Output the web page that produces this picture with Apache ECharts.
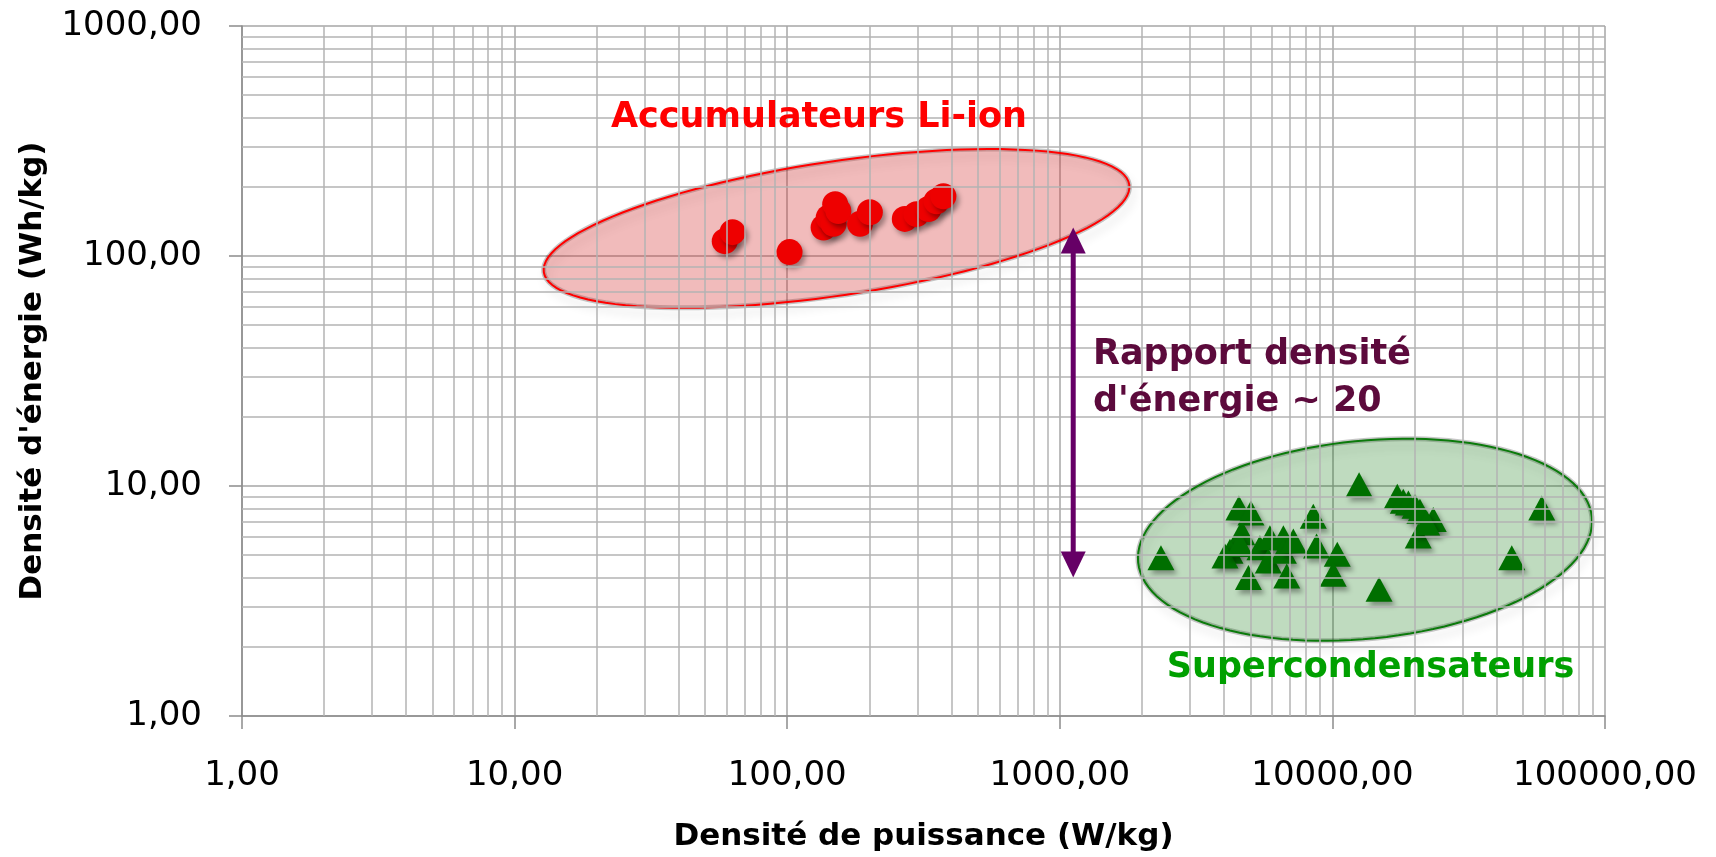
<!DOCTYPE html>
<html>
<head>
<meta charset="utf-8">
<script src="https://cdn.jsdelivr.net/npm/echarts@6/dist/echarts.min.js"></script>
<style>
  html, body { margin: 0; padding: 0; background: #ffffff; }
  #chart { width: 1716px; height: 857px; }
</style>
</head>
<body>
<div id="chart"></div>
<script>
// Li-ion cells: [power density W/kg, energy density Wh/kg]
const liIon = [
  [59, 116], [63, 127], [102, 104],
  [136, 133], [142, 147], [148, 138], [150, 168], [154, 157],
  [185, 138], [201, 155],
  [270, 145], [298, 152], [330, 160], [353, 173], [374, 182]
];

// Supercapacitors: [power density W/kg, energy density Wh/kg]
const superCaps = [
  [2350, 4.88], [4540, 8.03], [5025, 7.64], [4650, 6.26], [4210, 5.21],
  [4036, 4.96], [4580, 5.57], [4920, 4.0], [5420, 5.39], [5900, 5.96],
  [5820, 4.72], [6610, 5.96], [6610, 5.21], [7190, 5.76], [6800, 4.06],
  [8510, 7.39], [8750, 5.48], [10420, 5.05], [10070, 4.13], [12530, 10.13],
  [14830, 3.56], [17300, 9.03], [18200, 8.59], [19000, 8.44], [20100, 8.17],
  [20950, 7.76], [20650, 6.06], [23440, 7.15], [22180, 6.91], [45500, 4.88],
  [58600, 8.03]
];

const xTicks = [1, 10, 100, 1000, 10000, 100000];
const xTickLabels = ['1,00', '10,00', '100,00', '1000,00', '10000,00', '100000,00'];
const yTicks = [1, 10, 100, 1000];
const yTickLabels = ['1,00', '10,00', '100,00', '1000,00'];
const minorSteps = [2, 3, 4, 5, 6, 7, 8, 9];

const xTitle = 'Densité de puissance (W/kg)';
const yTitle = "Densité d'énergie (Wh/kg)";

// group outlines: centre in data units, radii in px, tilt in degrees
const groups = [
  { center: [151.7, 131.8], rx: 296, ry: 67, angle: 8.5,
    fill: 'rgba(212, 45, 45, 0.32)', stroke: '#ff0000' },
  { center: [13170, 5.84], rx: 228, ry: 99, angle: 5.7,
    fill: 'rgba(0, 110, 0, 0.25)', stroke: '#0b7a0b' }
];

// double-headed arrow between the two groups
const arrowX = 1120;
const arrowFrom = 133;
const arrowTo = 4.0;

const notes = [
  { text: 'Accumulateurs Li-ion', at: [130.8, 399], color: '#ff0000', align: 'center' },
  { text: 'Supercondensateurs', at: [13800, 1.62], color: '#00a000', align: 'center' },
  { text: "Rapport densité\nd'énergie ~ 20", at: [1324, 29.5], color: '#5c0a3c', align: 'left' }
];

const FONT = '"DejaVu Sans", "Noto Sans", sans-serif';

function tickLabel(ticks, labels) {
  return function (v) {
    for (let i = 0; i < ticks.length; i++) {
      if (Math.abs(Math.log10(ticks[i]) - Math.log10(v)) < 1e-6) return labels[i];
    }
    return '';
  };
}

// minor grid values 2..9 within each decade
function minorValues(ticks) {
  const out = [];
  for (let i = 0; i < ticks.length - 1; i++) {
    minorSteps.forEach(m => out.push(ticks[i] * m));
  }
  return out;
}

function ellipsePoints(c, a, b, deg) {
  const th = deg * Math.PI / 180;
  const pts = [];
  const n = 120;
  for (let i = 0; i < n; i++) {
    const t = i / n * Math.PI * 2;
    const ca = a * Math.cos(t), sb = b * Math.sin(t);
    pts.push([
      c[0] + ca * Math.cos(th) + sb * Math.sin(th),
      c[1] - ca * Math.sin(th) + sb * Math.cos(th)
    ]);
  }
  return pts;
}

const gridLineColor = '#b3b3b3';

const chart = echarts.init(document.getElementById('chart'), null, { renderer: 'canvas' });

chart.setOption({
  animation: false,
  backgroundColor: '#ffffff',
  grid: { left: 242, right: 111, top: 26, bottom: 138, containLabel: false },
  xAxis: {
    type: 'log',
    logBase: 10,
    min: 1,
    max: 100000,
    splitNumber: 5,
    name: xTitle,
    nameLocation: 'middle',
    nameGap: 105,
    nameTextStyle: { fontFamily: FONT, fontSize: 31, fontWeight: 'bold', color: '#000' },
    axisLine: { show: true, lineStyle: { color: '#8c8c8c', width: 1.5 } },
    axisTick: { show: true, length: 13, lineStyle: { color: '#8c8c8c', width: 1.5 } },
    axisLabel: {
      margin: 43, fontFamily: FONT, fontSize: 34, color: '#000',
      formatter: tickLabel(xTicks, xTickLabels)
    },
    splitLine: { show: true, lineStyle: { color: '#a6a6a6', width: 1.5 } }
  },
  yAxis: {
    type: 'log',
    logBase: 10,
    min: 1,
    max: 1000,
    splitNumber: 3,
    name: yTitle,
    nameLocation: 'middle',
    nameGap: 194,
    nameRotate: 90,
    nameTextStyle: { fontFamily: FONT, fontSize: 31, fontWeight: 'bold', color: '#000' },
    axisLine: { show: true, lineStyle: { color: '#8c8c8c', width: 1.5 } },
    axisTick: { show: true, length: 13, lineStyle: { color: '#8c8c8c', width: 1.5 } },
    axisLabel: {
      margin: 40, fontFamily: FONT, fontSize: 34, color: '#000',
      formatter: tickLabel(yTicks, yTickLabels)
    },
    splitLine: { show: true, lineStyle: { color: '#a6a6a6', width: 1.5 } }
  },
  series: [
    {
      // minor log grid lines
      type: 'scatter',
      data: [],
      z: 1,
      silent: true,
      markLine: {
        silent: true,
        symbol: ['none', 'none'],
        label: { show: false },
        lineStyle: { color: gridLineColor, width: 1.5, type: 'solid' },
        emphasis: { disabled: true },
        data: minorValues(xTicks).map(v => ({ xAxis: v }))
          .concat(minorValues(yTicks).map(v => ({ yAxis: v })))
      }
    },
    {
      // group outlines
      type: 'custom',
      z: 3,
      silent: true,
      clip: false,
      data: [[1, 1]],
      renderItem: function (params, api) {
        const children = [];
        groups.forEach(g => {
          const c = api.coord(g.center);
          const pts = ellipsePoints(c, g.rx, g.ry, g.angle);
          children.push({
            type: 'polygon', shape: { points: pts },
            style: { fill: 'none', stroke: 'rgba(0,0,0,0.22)', lineWidth: 5,
                     shadowBlur: 10, shadowOffsetX: 3, shadowOffsetY: 7, shadowColor: 'rgba(0,0,0,0.35)' }
          });
          children.push({
            type: 'polygon', shape: { points: pts },
            style: { fill: g.fill, stroke: g.stroke, lineWidth: 2 }
          });
        });
        return { type: 'group', children: children };
      }
    },
    {
      name: 'Accumulateurs Li-ion',
      type: 'scatter',
      z: 4,
      symbol: 'circle',
      symbolSize: 26,
      data: liIon,
      itemStyle: {
        color: '#ee0000', opacity: 1,
        shadowBlur: 5, shadowOffsetX: 3, shadowOffsetY: 4, shadowColor: 'rgba(0,0,0,0.35)'
      }
    },
    {
      name: 'Supercondensateurs',
      type: 'scatter',
      z: 4,
      symbol: 'triangle',
      symbolSize: [27, 25],
      data: superCaps,
      itemStyle: {
        color: '#006f00', opacity: 1,
        shadowBlur: 5, shadowOffsetX: 3, shadowOffsetY: 4, shadowColor: 'rgba(0,0,0,0.35)'
      }
    },
    {
      // arrow and text annotations
      type: 'custom',
      z: 5,
      silent: true,
      clip: false,
      data: [[1, 1]],
      renderItem: function (params, api) {
        const top = api.coord([arrowX, arrowFrom]);
        const bot = api.coord([arrowX, arrowTo]);
        const head = 26, half = 12.5;
        const color = '#660066';
        const children = [
          { type: 'line', shape: { x1: top[0], y1: top[1] + head - 2, x2: bot[0], y2: bot[1] - head + 2 },
            style: { stroke: color, lineWidth: 5 } },
          { type: 'polygon', shape: { points: [[top[0], top[1]], [top[0] - half, top[1] + head], [top[0] + half, top[1] + head]] },
            style: { fill: color } },
          { type: 'polygon', shape: { points: [[bot[0], bot[1]], [bot[0] - half, bot[1] - head], [bot[0] + half, bot[1] - head]] },
            style: { fill: color } }
        ];
        notes.forEach(n => {
          const p = api.coord(n.at);
          children.push({
            type: 'text',
            style: {
              text: n.text, x: p[0], y: p[1], fill: n.color,
              font: 'bold 35px ' + FONT, align: n.align, verticalAlign: 'middle', lineHeight: 47
            }
          });
        });
        return { type: 'group', children: children };
      }
    }
  ]
});
</script>
</body>
</html>
